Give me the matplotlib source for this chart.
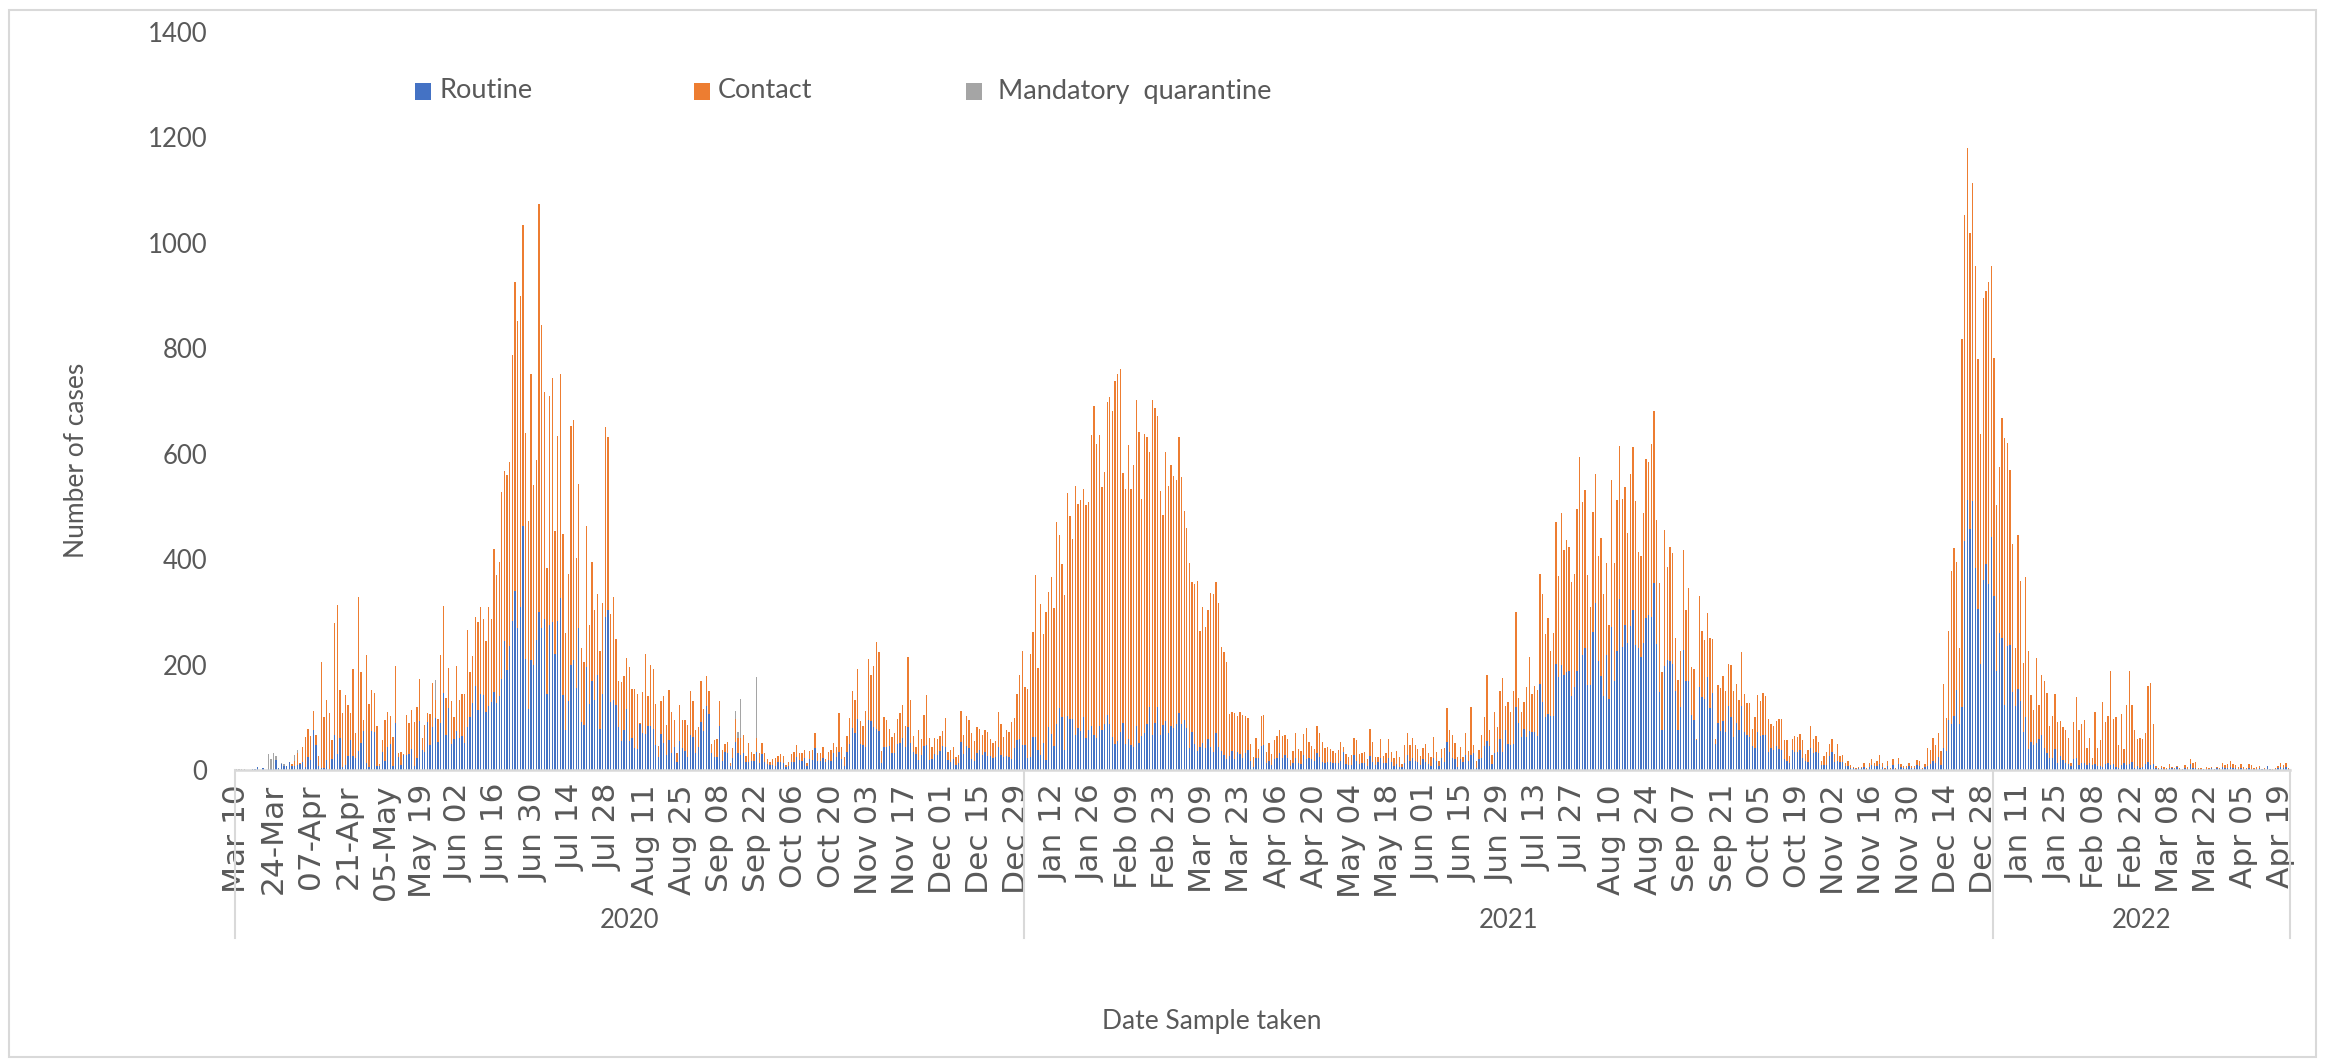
import numpy as np
import matplotlib
matplotlib.use("Agg")
import matplotlib.pyplot as plt
import matplotlib.transforms as mtransforms
from matplotlib.patches import Rectangle

# ---------------- data (daily, starting 2020-03-10) ----------------
# stack top (routine + contact + mandatory quarantine)
total = [
    2, 2, 2, 1, 0, 0, 1, 2, 5, 0,
    3, 0, 30, 21, 32, 26, 3, 13, 11, 8,
    15, 11, 28, 37, 13, 43, 63, 77, 65, 112,
    66, 27, 204, 101, 132, 108, 57, 278, 313, 151,
    109, 142, 123, 109, 191, 70, 328, 186, 95, 219,
    125, 152, 146, 84, 12, 57, 94, 110, 103, 62,
    197, 32, 34, 30, 104, 90, 114, 92, 120, 172,
    60, 85, 108, 106, 165, 171, 97, 219, 311, 137,
    194, 131, 101, 197, 133, 145, 144, 266, 186, 217,
    290, 281, 309, 286, 244, 309, 286, 420, 369, 395,
    528, 567, 560, 585, 787, 925, 851, 899, 1034, 640,
    473, 752, 540, 589, 1074, 845, 717, 384, 709, 743,
    453, 634, 752, 448, 260, 371, 653, 664, 402, 543,
    231, 204, 462, 275, 395, 303, 334, 225, 317, 650,
    632, 296, 329, 249, 169, 166, 178, 212, 196, 154,
    153, 144, 90, 148, 221, 140, 199, 191, 126, 46,
    130, 140, 85, 151, 110, 95, 33, 124, 95, 95,
    85, 150, 130, 76, 81, 169, 116, 178, 150, 49,
    57, 58, 130, 38, 49, 54, 14, 42, 112, 73,
    134, 67, 27, 51, 35, 30, 176, 33, 52, 32,
    21, 15, 21, 22, 27, 30, 27, 9, 16, 30,
    35, 47, 32, 32, 38, 13, 36, 38, 70, 32,
    32, 44, 21, 35, 38, 51, 44, 108, 44, 24,
    65, 99, 150, 132, 191, 93, 84, 112, 210, 181,
    198, 242, 223, 36, 100, 95, 78, 63, 70, 97,
    108, 123, 84, 214, 132, 65, 44, 75, 58, 104,
    142, 61, 43, 60, 58, 64, 74, 98, 35, 38,
    44, 25, 28, 112, 66, 102, 95, 70, 55, 82,
    77, 67, 76, 72, 59, 51, 55, 110, 87, 63,
    75, 72, 92, 99, 145, 180, 226, 158, 153, 220,
    262, 370, 194, 314, 258, 299, 337, 366, 308, 471,
    445, 391, 332, 525, 482, 439, 539, 504, 512, 534,
    503, 508, 636, 690, 619, 636, 537, 566, 699, 707,
    681, 737, 752, 760, 563, 534, 616, 534, 578, 702,
    641, 514, 638, 631, 604, 701, 686, 672, 529, 483,
    604, 539, 578, 558, 550, 631, 555, 492, 460, 393,
    357, 352, 358, 263, 309, 271, 303, 336, 334, 357,
    317, 234, 224, 205, 106, 110, 109, 102, 110, 104,
    102, 98, 50, 25, 60, 40, 102, 104, 34, 52,
    30, 57, 65, 76, 65, 67, 58, 19, 36, 70,
    40, 36, 68, 80, 53, 45, 40, 83, 70, 53,
    42, 44, 40, 36, 32, 38, 53, 44, 30, 25,
    28, 60, 57, 30, 33, 34, 20, 78, 54, 24,
    24, 59, 27, 33, 59, 34, 22, 36, 25, 12,
    47, 71, 47, 61, 47, 39, 27, 42, 49, 33,
    24, 62, 34, 17, 40, 42, 117, 75, 67, 52,
    25, 44, 25, 70, 36, 119, 47, 17, 38, 67,
    101, 180, 75, 28, 110, 81, 149, 174, 121, 129,
    110, 150, 300, 137, 110, 129, 158, 215, 144, 160,
    152, 372, 334, 258, 288, 225, 260, 471, 368, 488,
    418, 437, 423, 357, 372, 495, 593, 509, 532, 370,
    310, 490, 561, 406, 441, 334, 392, 275, 550, 392,
    513, 615, 514, 536, 449, 561, 613, 511, 414, 406,
    488, 590, 584, 619, 681, 474, 354, 185, 455, 386,
    423, 411, 250, 170, 226, 418, 304, 346, 196, 191,
    59, 330, 263, 247, 298, 251, 249, 58, 161, 155,
    178, 149, 202, 199, 150, 164, 133, 223, 144, 127,
    127, 78, 100, 142, 130, 147, 140, 97, 88, 83,
    93, 96, 96, 57, 56, 26, 58, 65, 63, 68,
    56, 30, 38, 84, 59, 65, 53, 17, 27, 34,
    50, 58, 30, 50, 27, 28, 13, 17, 9, 6,
    4, 6, 6, 13, 4, 13, 20, 13, 17, 28,
    13, 3, 17, 4, 20, 3, 23, 11, 8, 8,
    14, 8, 7, 19, 17, 4, 11, 41, 38, 61,
    47, 70, 36, 163, 99, 264, 377, 421, 394, 231,
    818, 1052, 1180, 1018, 1113, 956, 780, 637, 896, 909,
    925, 957, 782, 502, 574, 667, 629, 621, 569, 428,
    231, 445, 358, 203, 367, 226, 142, 114, 212, 123,
    180, 168, 147, 83, 102, 144, 91, 93, 81, 76,
    61, 13, 91, 138, 76, 88, 95, 42, 61, 23,
    110, 41, 57, 129, 92, 103, 188, 97, 100, 47,
    106, 40, 123, 188, 123, 76, 59, 61, 59, 70,
    159, 165, 88, 8, 4, 8, 5, 3, 12, 6,
    4, 8, 3, 2, 9, 5, 20, 14, 15, 4,
    3, 2, 5, 3, 6, 2, 5, 4, 14, 10,
    12, 17, 12, 9, 6, 11, 5, 4, 12, 10,
    3, 6, 7, 2, 3, 8, 2, 1, 3, 8,
    13, 9, 14, 4,
]

routine = [
    0, 0, 0, 0, 0, 0, 1, 2, 5, 0,
    3, 0, 2, 1, 2, 19, 3, 12, 8, 8,
    15, 8, 8, 9, 12, 15, 6, 24, 19, 75,
    47, 7, 4, 4, 19, 2, 20, 66, 31, 61,
    6, 9, 26, 56, 26, 23, 36, 52, 74, 13,
    6, 74, 72, 8, 8, 35, 17, 44, 49, 8,
    90, 25, 9, 29, 29, 31, 40, 8, 23, 93,
    38, 35, 92, 47, 82, 98, 53, 90, 146, 66,
    117, 50, 58, 74, 60, 64, 52, 81, 100, 128,
    160, 114, 145, 143, 110, 122, 129, 148, 127, 140,
    172, 244, 190, 236, 283, 340, 269, 309, 463, 211,
    116, 209, 200, 246, 300, 269, 287, 145, 275, 280,
    220, 282, 326, 142, 76, 131, 200, 209, 155, 270,
    91, 85, 196, 125, 169, 132, 180, 78, 145, 291,
    303, 129, 133, 124, 82, 55, 76, 116, 55, 60,
    42, 40, 87, 70, 69, 84, 84, 78, 47, 25,
    68, 51, 29, 57, 33, 44, 15, 55, 41, 36,
    25, 66, 62, 33, 44, 92, 74, 122, 107, 33,
    24, 24, 84, 18, 35, 33, 8, 23, 54, 32,
    28, 33, 16, 16, 18, 18, 35, 14, 30, 16,
    11, 9, 9, 8, 15, 16, 13, 6, 8, 16,
    16, 25, 19, 17, 23, 8, 21, 19, 41, 18,
    17, 22, 16, 19, 17, 33, 25, 35, 21, 8,
    35, 49, 79, 70, 97, 49, 47, 44, 95, 93,
    82, 78, 74, 14, 44, 44, 46, 32, 33, 49,
    52, 61, 43, 81, 51, 35, 30, 19, 28, 46,
    47, 19, 20, 31, 28, 36, 45, 44, 19, 16,
    20, 9, 13, 54, 31, 46, 41, 20, 18, 32,
    38, 28, 35, 26, 26, 22, 25, 44, 28, 25,
    27, 25, 20, 41, 57, 59, 47, 47, 23, 25,
    63, 62, 37, 28, 51, 19, 82, 68, 45, 87,
    117, 101, 38, 102, 97, 97, 66, 79, 74, 101,
    60, 76, 84, 66, 60, 84, 76, 87, 104, 87,
    63, 50, 55, 72, 89, 50, 58, 47, 44, 83,
    52, 65, 70, 87, 120, 67, 89, 119, 67, 86,
    93, 70, 83, 79, 87, 108, 87, 94, 80, 41,
    72, 50, 36, 44, 52, 41, 58, 44, 34, 71,
    43, 36, 28, 20, 27, 36, 20, 34, 30, 23,
    33, 38, 18, 6, 23, 22, 45, 48, 13, 17,
    9, 20, 23, 32, 23, 28, 22, 8, 13, 23,
    14, 11, 28, 20, 22, 20, 17, 32, 25, 15,
    14, 15, 15, 13, 13, 13, 18, 34, 11, 9,
    10, 28, 17, 11, 14, 14, 8, 27, 15, 9,
    15, 22, 13, 14, 22, 15, 8, 11, 6, 5,
    14, 28, 18, 23, 17, 15, 9, 20, 15, 11,
    8, 23, 17, 8, 22, 15, 54, 34, 23, 20,
    6, 20, 15, 28, 17, 28, 32, 3, 20, 22,
    45, 55, 46, 11, 32, 34, 58, 34, 75, 50,
    47, 49, 119, 89, 63, 78, 62, 74, 72, 72,
    65, 164, 129, 101, 107, 102, 102, 201, 177, 199,
    180, 185, 188, 140, 158, 187, 266, 218, 232, 161,
    161, 261, 316, 206, 178, 140, 218, 134, 272, 168,
    226, 325, 234, 276, 240, 274, 304, 237, 231, 215,
    240, 289, 294, 291, 354, 239, 148, 76, 197, 208,
    206, 201, 150, 76, 120, 228, 168, 168, 104, 94,
    57, 157, 139, 135, 177, 117, 147, 50, 89, 74,
    93, 72, 121, 101, 63, 89, 76, 122, 72, 66,
    63, 45, 41, 72, 65, 66, 66, 35, 41, 38,
    45, 39, 38, 20, 18, 13, 38, 34, 35, 38,
    23, 18, 15, 41, 33, 34, 32, 9, 10, 9,
    27, 35, 15, 18, 15, 16, 8, 8, 4, 3,
    2, 3, 3, 6, 2, 6, 10, 7, 8, 12,
    6, 1, 8, 2, 10, 1, 12, 5, 4, 4,
    7, 4, 3, 9, 8, 2, 5, 8, 11, 17,
    14, 24, 10, 42, 36, 95, 87, 102, 151, 87,
    119, 434, 513, 458, 510, 384, 305, 202, 360, 390,
    352, 442, 330, 188, 260, 250, 123, 236, 237, 148,
    121, 154, 131, 72, 100, 40, 53, 48, 51, 59,
    66, 42, 32, 23, 23, 40, 14, 26, 19, 14,
    11, 7, 21, 23, 9, 14, 13, 9, 14, 9,
    11, 7, 7, 6, 11, 14, 10, 11, 6, 3,
    9, 13, 9, 11, 15, 4, 7, 4, 6, 11,
    15, 9, 11, 3, 2, 3, 2, 1, 4, 3,
    1, 5, 2, 1, 4, 2, 12, 3, 4, 2,
    1, 1, 2, 1, 4, 1, 3, 2, 5, 4,
    3, 6, 4, 3, 2, 3, 2, 1, 3, 2,
    1, 2, 3, 1, 1, 7, 1, 0, 1, 3,
    6, 4, 5, 2,
]

# mandatory quarantine (only a few days have any)
quarantine_days = [0, 1, 2, 3, 12, 13, 14, 15, 17, 18, 22, 23, 75, 188, 189, 190, 196]
quarantine_vals = [2, 2, 2, 1, 28, 20, 30, 7, 1, 3, 10, 5, 38, 16, 13, 73, 115]

tick_labels = [
    "Mar 10", "24-Mar", "07-Apr", "21-Apr", "05-May", "May 19", "Jun 02", "Jun 16",
    "Jun 30", "Jul 14", "Jul 28", "Aug 11", "Aug 25", "Sep 08", "Sep 22", "Oct 06",
    "Oct 20", "Nov 03", "Nov 17", "Dec 01", "Dec 15", "Dec 29",
    "Jan 12", "Jan 26", "Feb 09", "Feb 23", "Mar 09", "Mar 23", "Apr 06", "Apr 20",
    "May 04", "May 18", "Jun 01", "Jun 15", "Jun 29", "Jul 13", "Jul 27", "Aug 10",
    "Aug 24", "Sep 07", "Sep 21", "Oct 05", "Oct 19", "Nov 02", "Nov 16", "Nov 30",
    "Dec 14", "Dec 28",
    "Jan 11", "Jan 25", "Feb 08", "Feb 22", "Mar 08", "Mar 22", "Apr 05", "Apr 19",
]
year_labels = ["2020", "2021", "2022"]
year_start_day = [0, 297, 662]
series_names = ["Routine", "Contact", "Mandatory  quarantine"]

# ---------------- build arrays ----------------
assert len(total) == len(routine), (len(total), len(routine))
N = len(total)
tot = np.array(total, dtype=float)
rou = np.array(routine, dtype=float)
qua = np.zeros(N)
qua[quarantine_days] = quarantine_vals
con = np.maximum(tot - rou - qua, 0)

# ---------------- figure ----------------
W, H = 2328, 1063
fig = plt.figure(figsize=(W / 100, H / 100), dpi=100)
fig.patch.set_facecolor("white")
TXT = "#595959"
NARROW = ["Lato", "DejaVu Sans"]

ax = fig.add_axes([235 / W, 1 - 770 / H, 2055 / W, 738 / H])
x = np.arange(N)
bw = 0.5
c_r, c_c, c_q = "#4472C4", "#ED7D31", "#A5A5A5"
ax.bar(x, rou, width=bw, color=c_r, linewidth=0)
ax.bar(x, con, width=bw, bottom=rou, color=c_c, linewidth=0)
ax.bar(x, qua, width=bw, bottom=rou + con, color=c_q, linewidth=0)

ax.set_xlim(-0.5, N - 0.5)
ax.set_ylim(0, 1400)
ax.set_yticks(np.arange(0, 1401, 200))
for s in ["top", "right", "left"]:
    ax.spines[s].set_visible(False)
ax.spines["bottom"].set_color("#D9D9D9")
ax.spines["bottom"].set_linewidth(1.8)
ax.tick_params(axis="y", length=0, pad=20, labelsize=18.5, labelcolor=TXT)
for lbl in ax.get_yticklabels():
    lbl.set_family(NARROW)

ax.set_xticks(x[::14][: len(tick_labels)])
ax.set_xticklabels(tick_labels, rotation=90, family=["DejaVu Sans"])
ax.tick_params(axis="x", length=0, pad=10, labelsize=22.5, labelcolor=TXT)

# year grouping
trans = mtransforms.blended_transform_factory(ax.transData, fig.transFigure)
bounds = list(year_start_day) + [N]
y0f, y1f = 1 - 770 / H, 1 - 938 / H
for b in bounds:
    ax.plot([b - 0.5, b - 0.5], [y0f, y1f], transform=trans, color="#D9D9D9",
            lw=1.5, clip_on=False)
for i, lab in enumerate(year_labels):
    mid = (bounds[i] + bounds[i + 1]) / 2 - 0.5
    ax.text(mid, 1 - 921 / H, lab, transform=trans, ha="center", va="center",
            fontsize=18.5, color=TXT, family=NARROW)

# axis titles
fig.text(77 / W, 1 - 460 / H, "Number of cases", rotation=90, ha="center",
         va="center", fontsize=19, color=TXT, family=NARROW)
fig.text(1212 / W, 1 - 1021 / H, "Date Sample taken", ha="center", va="center",
         fontsize=19, color=TXT, family=NARROW)

# legend
leg_sq_x = [415, 694, 966]
leg_tx_x = [440, 718, 998]
for sx, tx, name, col in zip(leg_sq_x, leg_tx_x, series_names, [c_r, c_c, c_q]):
    fig.patches.append(Rectangle((sx / W, 1 - 100 / H), 16 / W, 17 / H,
                                 transform=fig.transFigure, facecolor=col,
                                 edgecolor="none"))
    fig.text(tx / W, 1 - 91 / H, name, ha="left", va="center",
             fontsize=19.5, color=TXT, family=NARROW)

# outer chart border
fig.patches.append(Rectangle((9 / W, 1 - 1057 / H), 2307 / W, 1047 / H,
                             transform=fig.transFigure, fill=False,
                             edgecolor="#D9D9D9", linewidth=1.5))

fig.savefig("out.png", dpi=100, facecolor="white")
